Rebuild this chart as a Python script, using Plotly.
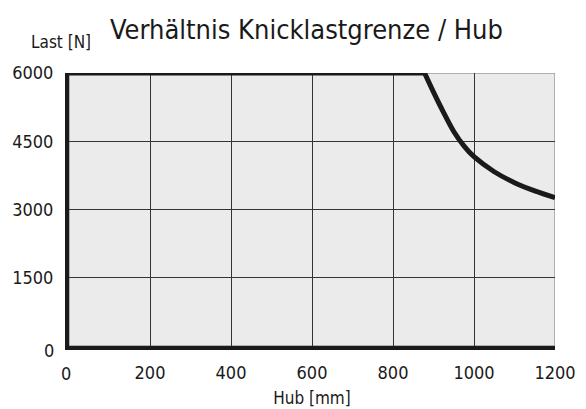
import plotly.graph_objects as go

# flat part (load limit) and buckling curve
flat_hub = [0, 200, 400, 600, 800, 878]
flat_last = [6000, 6000, 6000, 6000, 6000, 6000]
curve_hub = [878, 900, 925, 950, 975, 1000, 1050, 1100, 1150, 1200]
curve_last = [6000, 5580, 5130, 4715, 4400, 4160, 3830, 3590, 3410, 3260]

x_ticks = [200, 400, 600, 800, 1000, 1200]
y_ticks = [1500, 3000, 4500, 6000]

FONT = "DejaVu Sans Condensed, DejaVu Sans, sans-serif"
INK = "#1a1a1a"

def f(size):
    return dict(family=FONT, size=size, color=INK)

fig = go.Figure()
fig.add_trace(go.Scatter(
    x=flat_hub, y=flat_last, mode="lines",
    line=dict(color=INK, width=5),
    cliponaxis=False, hoverinfo="skip", showlegend=False,
))
fig.add_trace(go.Scatter(
    x=curve_hub, y=curve_last, mode="lines",
    line=dict(color=INK, width=5, shape="spline", smoothing=1),
    cliponaxis=False, hoverinfo="skip", showlegend=False,
))

fig.add_shape(type="rect", xref="x", yref="y", x0=0, x1=1200, y0=0, y1=6000,
              line=dict(color="#777777", width=1), fillcolor="rgba(0,0,0,0)", layer="below")

fig.update_layout(
    width=586, height=409,
    margin=dict(l=69, r=31, t=73, b=63, autoexpand=False),
    paper_bgcolor="white", plot_bgcolor="#ebebeb",
    font=f(18),
    title=dict(text="Verhältnis Knicklastgrenze / Hub", x=0.523, xanchor="center",
               y=0.928, yanchor="middle", font=f(27)),
    xaxis=dict(range=[0, 1200], tickvals=x_ticks, ticks="", showgrid=True,
               gridcolor="#333333", gridwidth=1, zeroline=False,
               showline=True, linecolor=INK, linewidth=4, automargin=False,
               title=dict(text="Hub [mm]", font=f(17), standoff=12),
               tickfont=f(18), ticklabelstandoff=7, fixedrange=True),
    yaxis=dict(range=[0, 6000], tickvals=y_ticks, ticks="", showgrid=True,
               gridcolor="#333333", gridwidth=1, zeroline=False,
               showline=True, linecolor=INK, linewidth=4, automargin=False,
               tickfont=f(18), ticklabelstandoff=8, fixedrange=True),
    annotations=[
        dict(text="Last [N]", xref="paper", yref="paper", x=-0.016, y=1.114,
             xanchor="center", yanchor="middle", showarrow=False, font=f(17)),
        dict(text="0", xref="paper", yref="paper", x=-0.042, y=-0.015,
             xanchor="center", yanchor="middle", showarrow=False, font=f(18)),
        dict(text="0", xref="paper", yref="paper", x=-0.007, y=-0.101,
             xanchor="center", yanchor="middle", showarrow=False, font=f(18)),
    ],
)

fig.write_html("out.html", config={"displayModeBar": False},
               post_script="document.body.style.margin='0';")
